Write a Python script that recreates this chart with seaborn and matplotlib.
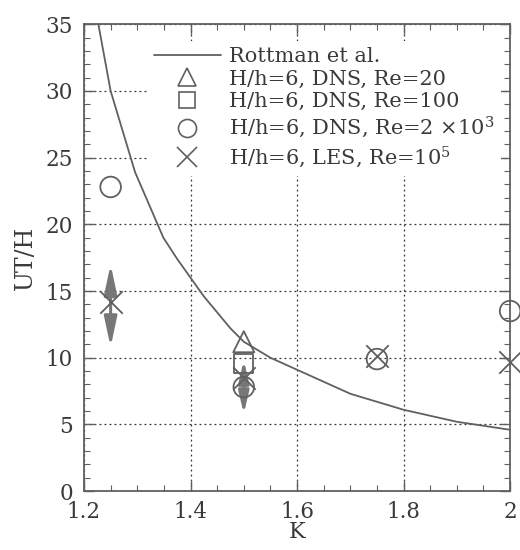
import numpy as np
import pandas as pd
import matplotlib
matplotlib.use("Agg")
import matplotlib.pyplot as plt
from matplotlib.lines import Line2D
import seaborn as sns

# Rottman et al. curve
rottman_k = [1.227, 1.25, 1.296, 1.349, 1.375, 1.40, 1.425, 1.45, 1.475, 1.50, 1.55,
             1.60, 1.70, 1.80, 1.90, 2.00]
rottman_ut = [35.0, 30.0, 23.9, 19.0, 17.4, 16.0, 14.6, 13.4, 12.2, 11.2, 10.0,
              9.1, 7.3, 6.1, 5.2, 4.6]

# simulation points
tri_k = [1.5]
tri_ut = [11.2]
sq_k = [1.5]
sq_ut = [9.6]
circ_k = [1.25, 1.5, 1.75, 2.0]
circ_ut = [22.8, 7.8, 9.9, 13.5]
cross_k = [1.25, 1.5, 1.75, 2.0]
cross_ut = [14.2, 8.5, 10.1, 9.7]

# ranges shown as double arrows
range_k = [1.25, 1.5]
range_lo = [10.8, 5.8]
range_hi = [17.0, 9.8]

labels = ["Rottman et al.",
          "H/h=6, DNS, Re=20",
          "H/h=6, DNS, Re=100",
          "H/h=6, DNS, Re=2 \u00d710$^{3}$",
          "H/h=6, LES, Re=10$^{5}$"]

sns.set_theme(style="ticks")
plt.rcParams["font.family"] = ["DejaVu Serif"]
plt.rcParams["mathtext.fontset"] = "dejavuserif"

grey = "#606060"
txt = "#3a3a3a"

fig = plt.figure(figsize=(5.2, 5.5), dpi=100)
ax = fig.add_axes([0.1615, 0.107, 0.8195, 0.849])

df_r = pd.DataFrame({"K": rottman_k, "UT/H": rottman_ut})
sns.lineplot(data=df_r, x="K", y="UT/H", ax=ax, color=grey, lw=1.3, zorder=3)

# double arrows (the first one larger than the second)
head_styles = ["<|-|>,head_length=1.5,head_width=0.32", "<|-|>,head_length=1.1,head_width=0.26"]
for k, lo, hi, st in zip(range_k, range_lo, range_hi, head_styles):
    ax.annotate("", xy=(k, hi), xytext=(k, lo),
                arrowprops=dict(arrowstyle=st, color="#777777", lw=2.2,
                                shrinkA=0, shrinkB=0),
                zorder=3)

mk = dict(facecolors="none", edgecolors=grey, linewidths=1.3, zorder=4, clip_on=False)
sns.scatterplot(x=tri_k, y=tri_ut, marker="^", s=230, ax=ax, **mk)
sns.scatterplot(x=sq_k, y=sq_ut, marker="s", s=190, ax=ax, **mk)
sns.scatterplot(x=circ_k, y=circ_ut, marker="o", s=220, ax=ax, **mk)
ax.scatter(cross_k, cross_ut, marker="x", s=260, color=grey, linewidths=1.3,
           zorder=4, clip_on=False)

ax.set_xlim(1.2, 2.0)
ax.set_ylim(0, 35)
ax.set_xticks([1.2, 1.4, 1.6, 1.8, 2.0])
ax.set_xticklabels(["1.2", "1.4", "1.6", "1.8", "2"])
ax.set_yticks(np.arange(0, 36, 5))
ax.set_xticks(np.arange(1.2, 2.001, 0.05), minor=True)
ax.set_yticks(np.arange(0, 36, 1), minor=True)
ax.tick_params(which="both", direction="in", top=True, right=True, colors=grey,
               labelcolor=txt, labelsize=15.5)
ax.tick_params(which="major", length=7, width=1)
ax.tick_params(axis="y", which="major", pad=8)
ax.tick_params(axis="x", which="major", pad=7)
ax.tick_params(which="minor", length=4, width=0.8)
ax.grid(True, which="major", ls=(0, (1.5, 2.5)), color="#333333", lw=0.9)
for s in ax.spines.values():
    s.set_color(grey)
    s.set_linewidth(1.3)

ax.set_xlabel("K", fontsize=16, color=txt, labelpad=-1)
ax.set_ylabel("UT/H", fontsize=17, color=txt, labelpad=6)

handles = [Line2D([], [], color=grey, lw=1.3),
           Line2D([], [], ls="", marker="^", ms=13, mfc="none", mec=grey, mew=1.2),
           Line2D([], [], ls="", marker="s", ms=12, mfc="none", mec=grey, mew=1.2),
           Line2D([], [], ls="", marker="o", ms=13, mfc="none", mec=grey, mew=1.2),
           Line2D([], [], ls="", marker="x", ms=14, mfc="none", mec=grey, mew=1.2)]
leg = ax.legend(handles, labels, loc="upper left", bbox_to_anchor=(0.15, 0.965),
                fontsize=15, handlelength=3.2, handletextpad=0.4, labelspacing=0.18,
                frameon=True, facecolor="white", edgecolor="none", framealpha=1,
                borderpad=0.3, borderaxespad=0)
for t in leg.get_texts():
    t.set_color(txt)

fig.savefig("out.png", dpi=100, facecolor="white")
